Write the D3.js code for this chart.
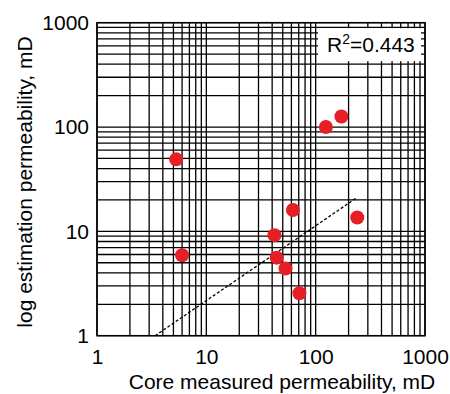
<!DOCTYPE html>
<html>
<head>
<meta charset="utf-8">
<script src="https://cdn.jsdelivr.net/npm/d3@7"></script>
<style>
    body { margin: 0; background: #fff; }
    svg text { font-family: "Liberation Sans", Arial, sans-serif; fill: #000; }
</style>
</head>
<body>
<div id="chart"></div>
<script>
// Data
const coreK = [5.3, 6.0, 42, 44, 53, 62, 71, 124, 172, 240];
const estK  = [49, 5.9, 9.2, 5.6, 4.4, 16, 2.55, 100, 126, 13.6];
const trendX = [3.4, 240];
const trendY = [1, 21.2];
const tickValues = [1, 10, 100, 1000];
const tickLabels = ['1', '10', '100', '1000'];
const r2Label = '0.443';

const W = 450, H = 394;
const margin = {top: 22.7, right: 25, bottom: 58.3, left: 97};
const width = W - margin.left - margin.right;
const height = H - margin.top - margin.bottom;

const svg = d3.select('#chart')
    .append('svg')
    .attr('width', W)
    .attr('height', H);

const g = svg.append('g')
    .attr('transform', `translate(${margin.left}, ${margin.top})`);

// Scales
const x = d3.scaleLog().domain([1, 1000]).range([0, width]);
const y = d3.scaleLog().domain([1, 1000]).range([height, 0]);

// Grid lines 1..9 per decade
const gridVals = [];
[1, 10, 100].forEach(d => {
    for (let k = 1; k <= 9; k++) gridVals.push(d * k);
});
gridVals.push(1000);

g.selectAll('line.vgrid')
    .data(gridVals)
    .enter()
    .append('line')
    .attr('class', 'vgrid')
    .attr('x1', d => x(d)).attr('x2', d => x(d))
    .attr('y1', 0).attr('y2', height)
    .attr('stroke', '#000')
    .attr('stroke-width', 1.3);

g.selectAll('line.hgrid')
    .data(gridVals)
    .enter()
    .append('line')
    .attr('class', 'hgrid')
    .attr('y1', d => y(d)).attr('y2', d => y(d))
    .attr('x1', 0).attr('x2', width)
    .attr('stroke', '#000')
    .attr('stroke-width', 1.3);

// Frame
g.append('rect')
    .attr('width', width)
    .attr('height', height)
    .attr('fill', 'none')
    .attr('stroke', '#000')
    .attr('stroke-width', 1.5);

// Tick labels
const xAxis = g.append('g')
    .attr('transform', `translate(0, ${height})`)
    .call(d3.axisBottom(x).tickValues(tickValues)
        .tickFormat((d, i) => tickLabels[i]).tickSize(0).tickPadding(13));
xAxis.select('.domain').remove();
xAxis.selectAll('text')
    .attr('font-size', 21)
    .attr('font-family', '"Liberation Sans", Arial, sans-serif');

const yAxis = g.append('g')
    .call(d3.axisLeft(y).tickValues(tickValues)
        .tickFormat((d, i) => tickLabels[i]).tickSize(0).tickPadding(8));
yAxis.select('.domain').remove();
yAxis.selectAll('text')
    .attr('font-size', 21)
    .attr('font-family', '"Liberation Sans", Arial, sans-serif');

// Trend line
g.append('line')
    .attr('x1', x(trendX[0])).attr('y1', y(trendY[0]))
    .attr('x2', x(trendX[1])).attr('y2', y(trendY[1]))
    .attr('stroke', '#000')
    .attr('stroke-width', 1.3)
    .attr('stroke-dasharray', '3,2');

// Points
g.selectAll('circle')
    .data(coreK.map((c, i) => ({c: c, e: estK[i]})))
    .enter()
    .append('circle')
    .attr('cx', d => x(d.c))
    .attr('cy', d => y(d.e))
    .attr('r', 7)
    .attr('fill', '#e61e25');

// R^2 box
g.append('rect')
    .attr('x', 221).attr('y', 5.5)
    .attr('width', 103).attr('height', 33)
    .attr('fill', '#fff');

const r2 = g.append('text')
    .attr('x', 230).attr('y', 29.5)
    .attr('font-size', 21);
r2.append('tspan').text('R');
r2.append('tspan').attr('font-size', 14).attr('dy', -8).text('2');
r2.append('tspan').attr('dy', 8).text('=' + r2Label);

// Axis titles
svg.append('text')
    .attr('x', 282)
    .attr('y', 389)
    .attr('text-anchor', 'middle')
    .attr('font-size', 21)
    .text('Core measured permeability, mD');

svg.append('text')
    .attr('transform', `translate(32, 182) rotate(-90)`)
    .attr('text-anchor', 'middle')
    .attr('font-size', 21)
    .text('log estimation permeability, mD');
</script>
</body>
</html>
